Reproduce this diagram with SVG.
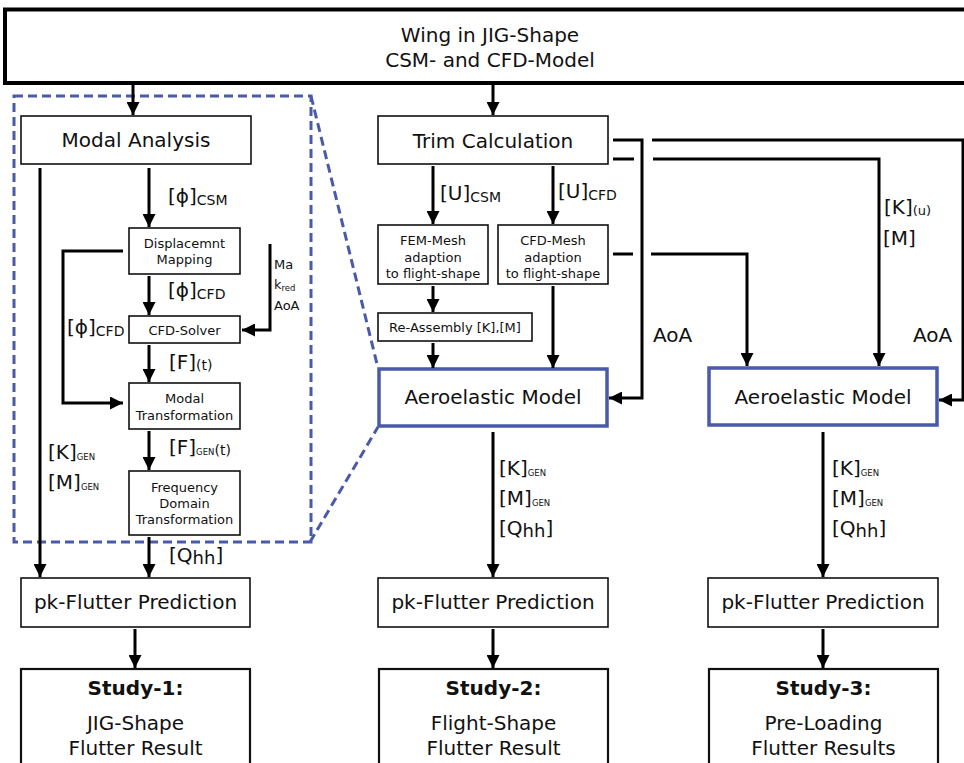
<svg xmlns="http://www.w3.org/2000/svg" width="964" height="763" viewBox="0 0 964 763">
<defs>
<marker id="ah" viewBox="0 0 12 12" refX="12" refY="6" markerWidth="13" markerHeight="13" markerUnits="userSpaceOnUse" orient="auto"><path d="M0,0 L12,6 L0,12 z" fill="#000"/></marker>
<style>
text{font-family:"DejaVu Sans","Verdana",sans-serif;fill:#111}
.big{font-size:20px;text-anchor:middle}
.sm{font-size:13px;text-anchor:middle}
.lbl{font-size:20px}
.sub{font-size:14px}
.tiny{font-size:8.5px}
.box{fill:#fff;stroke:#111;stroke-width:1.6}
.sbox{fill:#fff;stroke:#111;stroke-width:2.2}
.aero{fill:#fff;stroke:#4a5aaa;stroke-width:3.5}
.con{fill:none;stroke:#000;stroke-width:3}
.arr{fill:none;stroke:#000;stroke-width:3;marker-end:url(#ah)}
.dash{fill:none;stroke:#4a5aaa;stroke-width:3;stroke-dasharray:9 5}
</style>
</defs>
<rect width="964" height="763" fill="#fff"/>

<g id="zoom-frame">
<rect class="dash" x="14" y="96" width="297" height="446"/>
<line class="dash" x1="311" y1="96" x2="378" y2="368"/>
<line class="dash" x1="310" y1="542" x2="378" y2="427"/>
</g>

<g id="wing">
<rect x="5" y="9.5" width="970" height="73.5" fill="#fff" stroke="#000" stroke-width="4"/>
<text class="big" x="490" y="42">Wing in JIG-Shape</text>
<text class="big" x="490" y="67">CSM- and CFD-Model</text>
</g>

<g id="modal-analysis">
<rect class="box" x="21" y="116" width="230" height="48"/>
<text class="big" x="136" y="147">Modal Analysis</text>
</g>
<g id="displacement-mapping">
<rect class="box" x="129" y="228" width="111" height="46"/>
<text class="sm" x="184.5" y="247.5">Displacemnt</text>
<text class="sm" x="184.5" y="263.5">Mapping</text>
</g>
<g id="cfd-solver">
<rect class="box" x="129" y="316" width="111" height="27"/>
<text class="sm" x="184.5" y="334.5">CFD-Solver</text>
</g>
<g id="modal-transformation">
<rect class="box" x="129" y="383" width="111" height="46"/>
<text class="sm" x="184.5" y="402.5">Modal</text>
<text class="sm" x="184.5" y="419.5">Transformation</text>
</g>
<g id="frequency-domain">
<rect class="box" x="129" y="471" width="111" height="64"/>
<text class="sm" x="184.5" y="491.5">Frequency</text>
<text class="sm" x="184.5" y="507.5">Domain</text>
<text class="sm" x="184.5" y="523.5">Transformation</text>
</g>

<g id="trim">
<rect class="box" x="378" y="116" width="230" height="48"/>
<text class="big" x="493" y="148">Trim Calculation</text>
</g>
<g id="fem-mesh">
<rect class="box" x="378" y="225" width="110" height="59"/>
<text class="sm" x="433" y="244.5">FEM-Mesh</text>
<text class="sm" x="433" y="261.5">adaption</text>
<text class="sm" x="433" y="277.5">to flight-shape</text>
</g>
<g id="cfd-mesh">
<rect class="box" x="498" y="225" width="110" height="59"/>
<text class="sm" x="553" y="244.5">CFD-Mesh</text>
<text class="sm" x="553" y="261.5">adaption</text>
<text class="sm" x="553" y="277.5">to flight-shape</text>
</g>
<g id="re-assembly">
<rect class="box" x="378" y="313" width="154" height="28"/>
<text class="sm" x="455" y="331.5">Re-Assembly [K],[M]</text>
</g>
<g id="aero-1">
<rect class="aero" x="379" y="369" width="228" height="57"/>
<text class="big" x="493" y="404">Aeroelastic Model</text>
</g>
<g id="aero-2">
<rect class="aero" x="709" y="368" width="228" height="57"/>
<text class="big" x="823" y="404">Aeroelastic Model</text>
</g>

<g id="pk-1">
<rect class="box" x="21" y="578" width="229" height="49"/>
<text class="big" x="135.5" y="609">pk-Flutter Prediction</text>
</g>
<g id="pk-2">
<rect class="box" x="378" y="578" width="230" height="49"/>
<text class="big" x="493" y="609">pk-Flutter Prediction</text>
</g>
<g id="pk-3">
<rect class="box" x="708" y="578" width="230" height="49"/>
<text class="big" x="823" y="609">pk-Flutter Prediction</text>
</g>

<g id="study-1">
<rect class="sbox" x="21" y="669" width="229" height="110"/>
<text class="big" x="135.5" y="695" font-weight="bold">Study-1:</text>
<text class="big" x="135.5" y="730">JIG-Shape</text>
<text class="big" x="135.5" y="755">Flutter Result</text>
</g>
<g id="study-2">
<rect class="sbox" x="379" y="669" width="229" height="110"/>
<text class="big" x="493.5" y="695" font-weight="bold">Study-2:</text>
<text class="big" x="493.5" y="730">Flight-Shape</text>
<text class="big" x="493.5" y="755">Flutter Result</text>
</g>
<g id="study-3">
<rect class="sbox" x="709" y="669" width="229" height="110"/>
<text class="big" x="823.5" y="695" font-weight="bold">Study-3:</text>
<text class="big" x="823.5" y="730">Pre-Loading</text>
<text class="big" x="823.5" y="755">Flutter Results</text>
</g>

<g id="connectors">
<line class="arr" x1="133" y1="85" x2="133" y2="115"/>
<line class="arr" x1="493" y1="85" x2="493" y2="115"/>
<line class="arr" x1="40" y1="168" x2="40" y2="577"/>
<line class="arr" x1="149" y1="168" x2="149" y2="227"/>
<line class="arr" x1="149" y1="276" x2="149" y2="315"/>
<polyline class="arr" points="123,251 63,251 63,403 123,403"/>
<polyline class="arr" points="270,244 270,330 242,330"/>
<line class="arr" x1="149" y1="345" x2="149" y2="382"/>
<line class="arr" x1="149" y1="431" x2="149" y2="470"/>
<line class="arr" x1="149" y1="537" x2="149" y2="577"/>
<line class="arr" x1="135" y1="629" x2="135" y2="668"/>

<line class="arr" x1="433" y1="166" x2="433" y2="224"/>
<line class="arr" x1="553" y1="166" x2="553" y2="224"/>
<line class="arr" x1="433" y1="286" x2="433" y2="312"/>
<line class="arr" x1="433" y1="343" x2="433" y2="368"/>
<line class="arr" x1="553" y1="286" x2="553" y2="368"/>
<polyline class="arr" points="613,140 642,140 642,398 609,398"/>
<polyline class="arr" points="652,140 963,140 963,400 939,400"/>
<line class="con" x1="613" y1="159" x2="634" y2="159"/>
<polyline class="arr" points="653,159 879,159 879,366"/>
<line class="con" x1="613" y1="254" x2="633" y2="254"/>
<polyline class="arr" points="651,254 747,254 747,366"/>
<line class="arr" x1="493" y1="432" x2="493" y2="577"/>
<line class="arr" x1="823" y1="432" x2="823" y2="577"/>
<line class="arr" x1="493" y1="629" x2="493" y2="668"/>
<line class="arr" x1="823" y1="629" x2="823" y2="668"/>
</g>

<g id="labels">
<text class="lbl" x="168" y="203">[ϕ]<tspan class="sub" dy="2">CSM</tspan></text>
<text class="lbl" x="168" y="297">[ϕ]<tspan class="sub" dy="2">CFD</tspan></text>
<text class="lbl" x="67" y="334">[ϕ]<tspan class="sub" dy="2">CFD</tspan></text>
<text class="lbl" x="169" y="369">[F]<tspan class="sub" dy="1">(t)</tspan></text>
<text class="lbl" x="169" y="454">[F]<tspan class="tiny" dy="1">GEN</tspan><tspan class="sub">(t)</tspan></text>
<text class="lbl" x="48" y="459">[K]<tspan class="tiny" dy="1">GEN</tspan></text>
<text class="lbl" x="48" y="489">[M]<tspan class="tiny" dy="1">GEN</tspan></text>
<text class="lbl" x="169" y="562">[Q<tspan font-size="18px" dy="2">hh</tspan><tspan dy="-2">]</tspan></text>
<text font-size="13px" x="274" y="269">Ma</text>
<text font-size="13px" x="274" y="289">k<tspan class="tiny" dy="2">red</tspan></text>
<text font-size="13px" x="274" y="310">AoA</text>

<text class="lbl" x="440" y="200">[U]<tspan class="sub" dy="2">CSM</tspan></text>
<text class="lbl" x="558" y="198">[U]<tspan class="sub" dy="2">CFD</tspan></text>
<text class="lbl" x="884" y="214">[K]<tspan font-size="13px" dy="1">(u)</tspan></text>
<text class="lbl" x="883" y="245">[M]</text>
<text class="lbl" x="653" y="342">AoA</text>
<text class="lbl" x="913" y="342">AoA</text>

<text class="lbl" x="499" y="475">[K]<tspan class="tiny" dy="1">GEN</tspan></text>
<text class="lbl" x="499" y="505">[M]<tspan class="tiny" dy="1">GEN</tspan></text>
<text class="lbl" x="499" y="535">[Q<tspan font-size="18px" dy="2">hh</tspan><tspan dy="-2">]</tspan></text>
<text class="lbl" x="832" y="475">[K]<tspan class="tiny" dy="1">GEN</tspan></text>
<text class="lbl" x="832" y="505">[M]<tspan class="tiny" dy="1">GEN</tspan></text>
<text class="lbl" x="832" y="535">[Q<tspan font-size="18px" dy="2">hh</tspan><tspan dy="-2">]</tspan></text>
</g>
</svg>
